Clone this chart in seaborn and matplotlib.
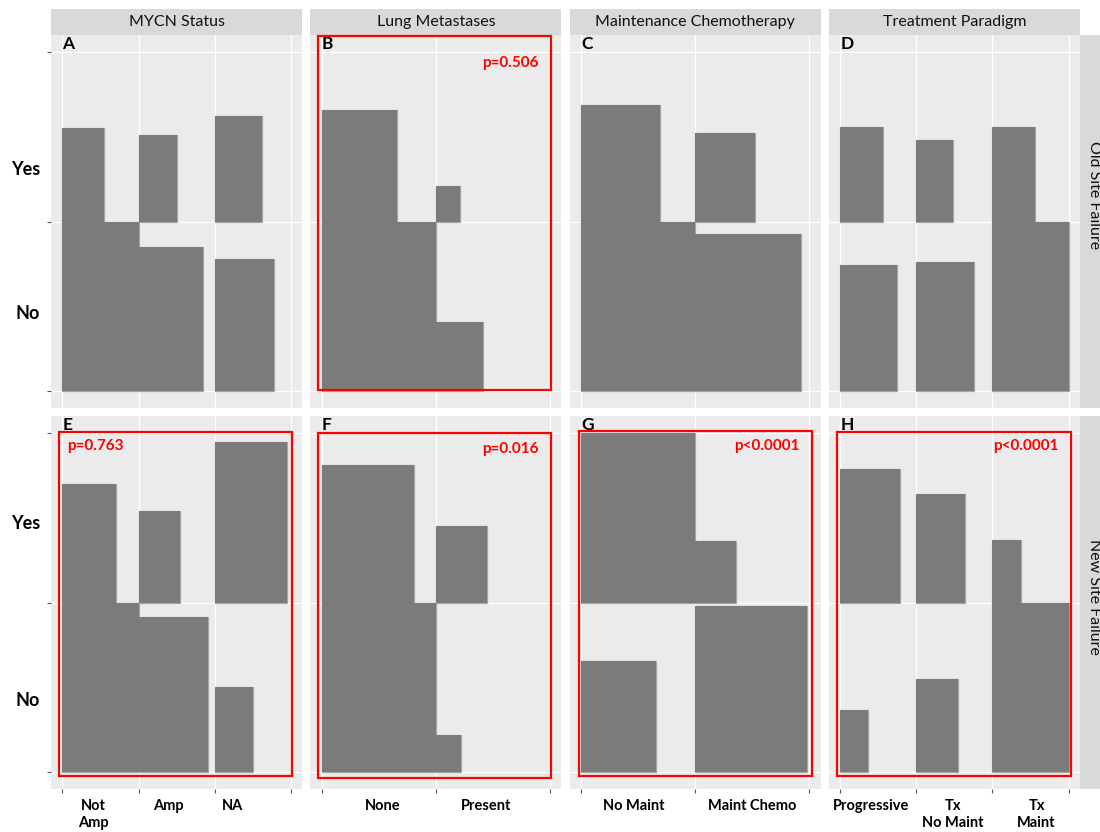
import numpy as np
import pandas as pd
import matplotlib
matplotlib.use("Agg")
import matplotlib.pyplot as plt
from matplotlib.patches import Rectangle
import seaborn as sns

# ---- data: side length of each tile relative to the largest tile in its panel ----
row_titles = ["Old Site Failure", "New Site Failure"]
col_titles = ["MYCN Status", "Lung Metastases", "Maintenance Chemotherapy", "Treatment Paradigm"]
panel_letters = [["A", "B", "C", "D"], ["E", "F", "G", "H"]]

mycn_cats = ["Not\nAmp", "Amp", "NA"]
lung_cats = ["None", "Present"]
maint_cats = ["No Maint", "Maint Chemo"]
paradigm_cats = ["Progressive", "Tx\nNo Maint", "Tx\nMaint"]

old_mycn_yes = [0.55, 0.51, 0.62]
old_mycn_no = [1.00, 0.85, 0.78]
old_lung_yes = [0.66, 0.21]
old_lung_no = [1.00, 0.41]
old_maint_yes = [0.69, 0.52]
old_maint_no = [1.00, 0.925]
old_paradigm_yes = [0.56, 0.48, 0.56]
old_paradigm_no = [0.745, 0.76, 1.00]

new_mycn_yes = [0.70, 0.54, 0.945]
new_mycn_no = [1.00, 0.915, 0.50]
new_lung_yes = [0.81, 0.45]
new_lung_no = [1.00, 0.22]
new_maint_yes = [1.00, 0.36]
new_maint_no = [0.655, 0.98]
new_paradigm_yes = [0.785, 0.64, 0.37]
new_paradigm_no = [0.365, 0.55, 1.00]

p_labels = {
    ("Old Site Failure", "Lung Metastases"): "p=0.506",
    ("New Site Failure", "MYCN Status"): "p=0.763",
    ("New Site Failure", "Lung Metastases"): "p=0.016",
    ("New Site Failure", "Maintenance Chemotherapy"): "p<0.0001",
    ("New Site Failure", "Treatment Paradigm"): "p<0.0001",
}

# ---- layout helpers (label placement, annotation boxes) ----
xlabel_pos = {
    "MYCN Status": [0.41, 1.39, 2.24],
    "Lung Metastases": [0.53, 1.44],
    "Maintenance Chemotherapy": [0.46, 1.50],
    "Treatment Paradigm": [0.40, 1.48, 2.58],
}
ylabel_pos = {"Old Site Failure": (1.313, 0.467), "New Site Failure": (1.477, 0.433)}
row_title_y = {"Old Site Failure": 0.571, "New Site Failure": 0.515}
p_pos = {
    ("Old Site Failure", "Lung Metastases"): (1.65, 1.937, "center"),
    ("New Site Failure", "MYCN Status"): (0.06, 1.923, "left"),
    ("New Site Failure", "Lung Metastases"): (1.65, 1.904, "center"),
    ("New Site Failure", "Maintenance Chemotherapy"): (1.63, 1.923, "center"),
    ("New Site Failure", "Treatment Paradigm"): (2.44, 1.923, "center"),
}
box_axes = {
    ("Old Site Failure", "Lung Metastases"): (0.032, 0.048, 0.960, 0.998),
    ("New Site Failure", "MYCN Status"): (0.032, 0.036, 0.959, 0.958),
    ("New Site Failure", "Lung Metastases"): (0.032, 0.030, 0.960, 0.955),
    ("New Site Failure", "Maintenance Chemotherapy"): (0.037, 0.036, 0.965, 0.959),
    ("New Site Failure", "Treatment Paradigm"): (0.033, 0.036, 0.963, 0.958),
}

cats = {
    "MYCN Status": mycn_cats,
    "Lung Metastases": lung_cats,
    "Maintenance Chemotherapy": maint_cats,
    "Treatment Paradigm": paradigm_cats,
}
sizes = {
    ("Old Site Failure", "MYCN Status"): (old_mycn_yes, old_mycn_no),
    ("Old Site Failure", "Lung Metastases"): (old_lung_yes, old_lung_no),
    ("Old Site Failure", "Maintenance Chemotherapy"): (old_maint_yes, old_maint_no),
    ("Old Site Failure", "Treatment Paradigm"): (old_paradigm_yes, old_paradigm_no),
    ("New Site Failure", "MYCN Status"): (new_mycn_yes, new_mycn_no),
    ("New Site Failure", "Lung Metastases"): (new_lung_yes, new_lung_no),
    ("New Site Failure", "Maintenance Chemotherapy"): (new_maint_yes, new_maint_no),
    ("New Site Failure", "Treatment Paradigm"): (new_paradigm_yes, new_paradigm_no),
}

records = []
for (row, col), (yes, no) in sizes.items():
    for i, cat in enumerate(cats[col]):
        records.append(dict(row=row, panel=col, category=cat, pos=i, response="Yes", size=yes[i]))
        records.append(dict(row=row, panel=col, category=cat, pos=i, response="No", size=no[i]))
df = pd.DataFrame(records)

FILL = "#7b7b7b"
EDGE = "#a6a6a6"
RED = "#ff0000"

sns.set_theme(style="darkgrid", rc={
    "axes.facecolor": "#EBEBEB",
    "grid.color": "white",
    "figure.facecolor": "white",
})
plt.rcParams["font.family"] = ["Lato", "DejaVu Sans"]


def draw_tiles(data, **kws):
    ax = plt.gca()
    base = np.where(data["response"] == "Yes", 1.0, 0.0)
    # outlined tiles first, then plain fills on top so only the outer rim stays light
    ax.bar(data["pos"], data["size"], width=data["size"], bottom=base, align="edge",
           color=FILL, edgecolor=EDGE, linewidth=0.9, zorder=3)
    ax.bar(data["pos"], data["size"], width=data["size"], bottom=base, align="edge",
           color=FILL, edgecolor="none", linewidth=0, zorder=4)


g = sns.FacetGrid(df, row="row", col="panel", row_order=row_titles, col_order=col_titles,
                  sharex=False, sharey=False, height=4.16, aspect=11 / 4 / 4.16, despine=False)
g.map_dataframe(draw_tiles)
g.set_titles(template="")
g.set_axis_labels("", "")
fig = g.figure
fig.set_size_inches(11, 8.32)
fig.subplots_adjust(left=51 / 1100, right=1080 / 1100, top=1 - 35 / 832, bottom=1 - 789 / 832,
                    wspace=8 / 251.25, hspace=8 / 373)

STRIP = "#D9D9D9"
for r, row in enumerate(row_titles):
    for c, col in enumerate(col_titles):
        ax = g.axes[r, c]
        n = len(cats[col])
        ax.set_xlim(-0.05 * n, 1.05 * n)
        ax.set_ylim(-0.1, 2.1)
        ax.set_xticks(range(n + 1))
        ax.set_xticklabels([""] * (n + 1))
        ax.set_yticks([0, 1, 2])
        ax.set_yticklabels(["", "", ""])
        ax.grid(True, which="major", color="white", linewidth=0.9)
        ax.set_axisbelow(True)
        for s in ax.spines.values():
            s.set_visible(False)
        ax.set_facecolor("#EBEBEB")

        # y side labels on the left column
        if c == 0:
            ax.tick_params(axis="y", which="major", left=True, length=3, width=0.8,
                           color="#555555", labelleft=False)
            ax.set_yticks(list(ylabel_pos[row]), ["Yes", "No"], minor=True)
            ax.tick_params(axis="y", which="minor", left=True, length=0, pad=8,
                           labelsize=13, labelcolor="black")
            for lab in ax.get_yticklabels(minor=True):
                lab.set_fontweight("bold")
        else:
            ax.tick_params(axis="y", which="both", left=False, labelleft=False)

        # category labels under the bottom row
        if r == len(row_titles) - 1:
            ax.tick_params(axis="x", which="major", bottom=True, length=3, width=0.8,
                           color="#555555", labelbottom=False)
            ax.set_xticks(xlabel_pos[col], cats[col], minor=True)
            ax.tick_params(axis="x", which="minor", bottom=True, length=0, pad=7,
                           labelsize=10.5, labelcolor="black")
            for lab in ax.get_xticklabels(minor=True):
                lab.set_fontweight("bold")
                lab.set_linespacing(1.3)
        else:
            ax.tick_params(axis="x", which="both", bottom=False, labelbottom=False)

        # panel letter
        ax.text(0.0, 2.045, panel_letters[r][c], ha="left", va="center",
                fontsize=12.5, fontweight="bold", color="black", zorder=5)

        # significance annotation
        key = (row, col)
        if key in p_labels:
            px, py, ha = p_pos[key]
            ax.text(px, py, p_labels[key], ha=ha, va="center", color=RED,
                    fontsize=11, fontweight="bold", zorder=6)
            x0, y0, x1, y1 = box_axes[key]
            ax.add_patch(Rectangle((x0, y0), x1 - x0, y1 - y0, transform=ax.transAxes,
                                   fill=False, edgecolor=RED, linewidth=1.6,
                                   clip_on=False, zorder=6))

        # top strips
        if r == 0:
            ax.add_patch(Rectangle((0, 1.0), 1, 26 / 373, transform=ax.transAxes,
                                   facecolor=STRIP, edgecolor="none", clip_on=False, zorder=1))
            ax.text(0.5, 1 + 13 / 373, col, transform=ax.transAxes, ha="center",
                    va="center", fontsize=11.5, color="#111111")
        # right strips
        if c == len(col_titles) - 1:
            ax.add_patch(Rectangle((1.0, 0), 30 / 251, 1, transform=ax.transAxes,
                                   facecolor=STRIP, edgecolor="none", clip_on=False, zorder=1))
            ax.text(1 + 14 / 251, row_title_y[row], row, transform=ax.transAxes, ha="center",
                    va="center", rotation=-90, fontsize=11.5, color="#111111")

fig.savefig("out.png", dpi=100)
